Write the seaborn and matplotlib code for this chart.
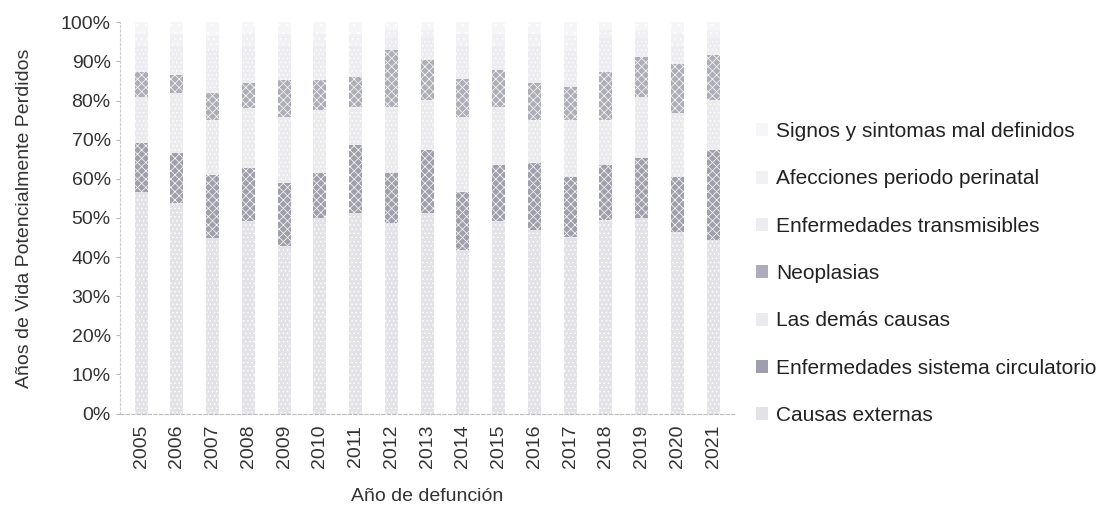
import numpy as np
import pandas as pd
import matplotlib
matplotlib.use('Agg')
import matplotlib.pyplot as plt
from matplotlib.patches import Patch
import seaborn as sns

# ---- data (percent of YPLL per cause) ----
years = [str(y) for y in range(2005, 2022)]

causas_externas = [56.7, 53.7, 44.8, 49.1, 42.7, 49.9, 51.2, 48.6, 51.2,
                   41.8, 49.1, 46.9, 45.2, 49.5, 49.9, 46.5, 44.4]
circulatorio = [12.4, 12.8, 16.2, 13.6, 16.2, 11.5, 17.4, 12.8, 16.1,
                14.9, 14.4, 17.1, 15.3, 14.0, 15.3, 14.0, 22.9]
demas_causas = [11.8, 15.3, 14.0, 15.3, 16.9, 16.2, 9.8, 17.0, 12.8,
                19.1, 14.9, 11.0, 14.5, 11.5, 15.7, 16.2, 12.8]
neoplasias = [6.4, 4.7, 6.8, 6.4, 9.4, 7.6, 7.7, 14.5, 10.2,
              9.8, 9.4, 9.4, 8.5, 12.3, 10.3, 12.7, 11.5]
transmisibles = [6.7, 7.5, 11.2, 9.6, 8.8, 8.8, 7.9, 3.1, 5.7,
                 8.4, 6.2, 9.6, 9.5, 8.7, 4.8, 4.6, 4.4]
perinatal = [3.2, 3.0, 3.5, 3.3, 3.0, 3.2, 3.0, 2.0, 2.0,
             3.0, 3.0, 3.0, 3.5, 2.0, 2.0, 3.0, 2.0]

series_names = ['Causas externas', 'Enfermedades sistema circulatorio',
                'Las demás causas', 'Neoplasias', 'Enfermedades transmisibles',
                'Afecciones periodo perinatal', 'Signos y sintomas mal definidos']

stack = np.array([causas_externas, circulatorio, demas_causas, neoplasias,
                  transmisibles, perinatal])
signos = 100 - stack.sum(axis=0)
stack = np.vstack([stack, signos])

df = pd.DataFrame(stack.T, columns=series_names)
df['year'] = years

# greyish, washed-out look of the scanned original
colors = ['#e2e2e8', '#9e9eae', '#eaeaef', '#acacba', '#ededf1', '#f1f1f4', '#f6f6f8']
hatches = ['....', 'xxxx', '....', 'xxxx', '....', '...', '..']

sns.set_style('white')
plt.rcParams['font.family'] = ['Liberation Sans Narrow', 'Liberation Sans', 'DejaVu Sans']
plt.rcParams['hatch.color'] = '#85859a'
plt.rcParams['hatch.linewidth'] = 0.5

fig = plt.figure(figsize=(11.08, 5.17), dpi=100)
ax = fig.add_axes([0.108, 0.2, 0.555, 0.757])

bottom = np.zeros(len(years))
for name, col, h in zip(series_names, colors, hatches):
    sns.barplot(data=df, x='year', y=name, color=col, width=0.36,
                bottom=bottom, ax=ax, linewidth=0, hatch=h)
    bottom = bottom + df[name].values

ax.set_ylim(0, 100)
ax.set_xlim(-0.6, len(years) - 0.4)
ax.set_yticks(np.arange(0, 101, 10))
ax.set_yticklabels([f'{v}%' for v in range(0, 101, 10)], fontsize=14, color='#333333')
ax.tick_params(axis='x', labelrotation=90, labelsize=14, labelcolor='#333333',
               length=0, pad=8)
ax.tick_params(axis='y', length=3, color='#bbbbbb', left=True)
ax.set_xlabel('Año de defunción', fontsize=14, color='#333333', labelpad=14)
ax.set_ylabel('Años de Vida Potencialmente Perdidos', fontsize=14, color='#333333',
              labelpad=20)

sns.despine(ax=ax, top=True, right=True)
ax.spines['left'].set_color('#cccccc')
ax.spines['left'].set_linestyle((0, (2, 2)))
ax.spines['bottom'].set_color('#bbbbbb')
ax.spines['bottom'].set_linestyle((0, (3, 2)))

handles = [Patch(facecolor=c, hatch=h, edgecolor='none', label=n)
           for n, c, h in zip(series_names, colors, hatches)][::-1]
fig.legend(handles=handles, loc='upper left', bbox_to_anchor=(0.665, 0.8),
           frameon=False, fontsize=15, handlelength=0.6, handleheight=0.6,
           handletextpad=0.4, labelspacing=1.36, labelcolor='#222222')

fig.savefig('out.png', dpi=100)
